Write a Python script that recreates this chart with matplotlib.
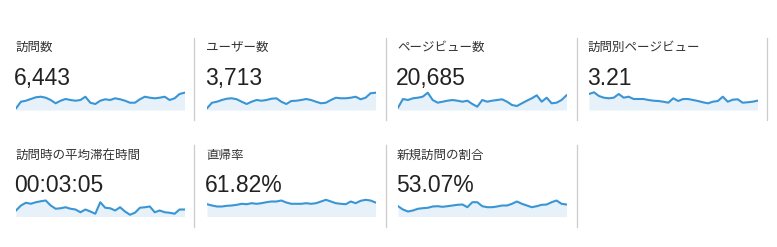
import numpy as np
import matplotlib.pyplot as plt
from matplotlib.lines import Line2D

plt.rcParams['font.family'] = ['Noto Sans CJK JP', 'DejaVu Sans']

W, H = 777, 247

# 日別の推移（35日分）
visits = [33, 162, 181, 215, 248, 259, 240, 195, 131, 181,
          215, 195, 181, 195, 259, 142, 117, 181, 209, 195,
          228, 209, 181, 142, 142, 209, 259, 240, 228, 240,
          259, 195, 228, 312, 337]
users = [19, 80, 91, 110, 124, 129, 118, 91, 66, 91,
         110, 102, 110, 124, 129, 91, 66, 99, 102, 110,
         121, 110, 91, 74, 80, 110, 135, 129, 129, 135,
         146, 118, 135, 184, 190]
pageviews = [143, 682, 620, 725, 763, 825, 1073, 620, 453, 515,
             577, 620, 577, 515, 577, 372, 205, 620, 515, 577,
             620, 663, 515, 310, 248, 415, 577, 725, 911, 515,
             763, 415, 453, 620, 911]
pages_per_visit = [4.80, 5.31, 4.20, 3.69, 3.51, 3.69, 4.80, 3.69, 3.99, 3.30,
                   3.30, 3.30, 3.00, 2.79, 2.70, 2.49, 2.19, 3.51, 2.70, 3.30,
                   3.30, 3.00, 2.70, 2.31, 2.01, 2.49, 2.70, 3.99, 2.49, 3.09,
                   3.21, 2.19, 2.31, 2.49, 2.79]
avg_duration = [168, 208, 230, 222, 234, 242, 248, 208, 182, 186,
                194, 182, 176, 154, 176, 160, 142, 234, 190, 186,
                168, 194, 160, 134, 150, 190, 194, 200, 154, 168,
                154, 150, 142, 176, 176]
bounce_rate = [56.6, 50.6, 46.0, 46.0, 49.2, 50.6, 53.8, 58.4, 56.6, 61.2,
               58.4, 61.2, 65.8, 69.0, 69.0, 73.6, 64.4, 58.4, 58.4, 58.4,
               61.2, 58.4, 61.2, 69.0, 76.8, 69.0, 61.2, 58.4, 56.6, 69.0,
               61.2, 72.2, 76.8, 73.6, 64.4]
new_rate = [50.5, 34.3, 24.5, 29.4, 37.7, 40.7, 42.6, 49.0, 50.5, 47.5,
            50.5, 53.9, 57.3, 58.8, 45.6, 70.1, 70.1, 50.5, 45.6, 45.6,
            49.0, 53.9, 53.9, 62.2, 73.5, 62.2, 53.9, 45.6, 50.5, 57.3,
            58.8, 70.1, 78.4, 62.2, 58.8]

titles = ['訪問数', 'ユーザー数', 'ページビュー数', '訪問別ページビュー',
          '訪問時の平均滞在時間', '直帰率', '新規訪問の割合']
totals = ['6,443', '3,713', '20,685', '3.21', '00:03:05', '61.82%', '53.07%']
series = [visits, users, pageviews, pages_per_visit,
          avg_duration, bounce_rate, new_rate]
ylims = [(0, 390), (0, 220), (0, 1240), (0, 6.0),
         (120, 280), (0, 92), (0, 98)]

LINE = '#3a95d5'
FILL = '#e6f1fa'

fig = plt.figure(figsize=(W / 100, H / 100), dpi=100)


def fx(px):
    return px / W


def fy(py):
    return 1 - py / H


col_left = [3.5, 194.5, 385.5, 576.5]
# 行ごとの縦位置: タイトル中心, 数値ベースライン, スパークライン上端/下端, 区切り線
rows = [dict(title=47.5, value=85, top=90, bottom=110, div=(38, 119.5)),
        dict(title=155, value=192, top=196.5, bottom=216.5, div=(145, 227))]

for i, (title, total, data, yl) in enumerate(zip(titles, totals, series, ylims)):
    r = rows[i // 4]
    left = col_left[i % 4]
    fig.text(fx(left + 11.5), fy(r['title']), title, fontsize=9,
             color='#333333', va='center', ha='left')
    fig.text(fx(left + 10.5), fy(r['value']), total, fontsize=16.5,
             family=['Liberation Sans', 'DejaVu Sans'], color='#222222',
             va='baseline', ha='left')
    ax = fig.add_axes([fx(left + 12.5), fy(r['bottom']),
                       fx(168.5), (r['bottom'] - r['top']) / H])
    x = np.arange(len(data))
    ax.fill_between(x, data, yl[0], color=FILL, lw=0)
    ax.plot(x, data, color=LINE, lw=1.5, solid_joinstyle='round')
    ax.set_xlim(0, len(data) - 1)
    ax.set_ylim(*yl)
    ax.axis('off')

# 区切り線
for xs, r in [([194.5, 385.5, 576.5, 767], rows[0]),
              ([194.5, 385.5, 576.5], rows[1])]:
    for xv in xs:
        fig.add_artist(Line2D([fx(xv), fx(xv)],
                              [fy(r['div'][0]), fy(r['div'][1])],
                              color='#cccccc', lw=0.9))

fig.savefig('out.png', dpi=100)
